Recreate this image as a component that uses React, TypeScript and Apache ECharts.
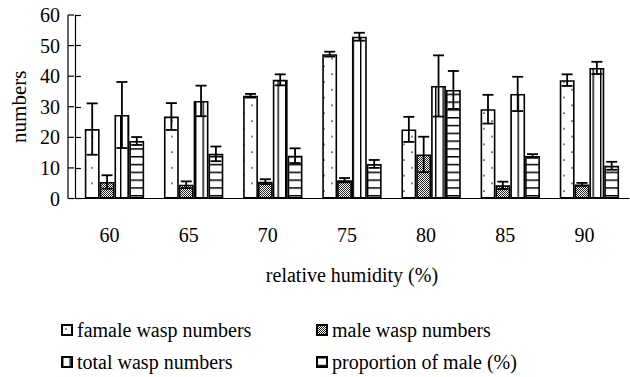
import React, { useEffect, useRef } from 'react';
import * as echarts from 'echarts';

const categories = ['60', '65', '70', '75', '80', '85', '90'];
const yTicks = [0, 10, 20, 30, 40, 50, 60];

const seriesNames = [
  'famale wasp numbers',
  'male wasp numbers',
  'total wasp numbers',
  'proportion of male (%)',
];

const female = [22.7, 26.8, 33.6, 47.2, 22.6, 29.2, 38.7];
const femaleErr = [8.4, 4.4, 0.6, 0.8, 4.1, 4.7, 1.9];
const male = [5.4, 4.5, 5.5, 6.0, 14.4, 4.3, 4.6];
const maleErr = [2.2, 1.1, 0.8, 0.7, 5.8, 1.2, 0.5];
const total = [27.3, 31.9, 38.8, 52.9, 36.8, 34.2, 42.7];
const totalErr = [10.8, 5.0, 1.8, 1.3, 10.0, 5.6, 2.0];
const proportion = [18.8, 14.6, 14.0, 11.3, 35.5, 13.9, 10.7];
const proportionErr = [1.3, 2.4, 2.4, 1.3, 6.2, 0.6, 1.3];

const FONT = "'Liberation Serif', 'DejaVu Serif', serif";
const GRID_LEFT = 68;

function svgUrl(w: number, h: number, body: string) {
  return (
    'data:image/svg+xml;charset=utf-8,' +
    encodeURIComponent(
      `<svg xmlns="http://www.w3.org/2000/svg" width="${w}" height="${h}">${body}</svg>`
    )
  );
}

const patterns = [
  {
    image: svgUrl(16, 15.6,
      '<rect width="16" height="15.6" fill="#fff"/><circle cx="4" cy="4" r="0.9" fill="#333"/><circle cx="12" cy="11.8" r="0.9" fill="#333"/>'),
    imageWidth: 16, imageHeight: 15.6, repeat: 'repeat',
  },
  {
    image: svgUrl(2, 2,
      '<rect width="2" height="2" fill="#fff"/><rect x="0" y="0" width="1" height="1" fill="#222"/><rect x="1" y="1" width="1" height="1" fill="#222"/>'),
    imageWidth: 2, imageHeight: 2, repeat: 'repeat',
  },
  {
    image: svgUrl(7.5, 4,
      '<rect width="7.5" height="4" fill="#fff"/><rect x="0" y="0" width="1.4" height="4" fill="#000"/>'),
    imageWidth: 7.5, imageHeight: 4, repeat: 'repeat',
  },
  {
    image: svgUrl(4, 7.8,
      '<rect width="4" height="7.8" fill="#fff"/><rect x="0" y="0" width="4" height="1.5" fill="#000"/>'),
    imageWidth: 4, imageHeight: 7.8, repeat: 'repeat',
  },
];

const legendPos = [
  { left: 56, top: 315 },
  { left: 311, top: 315 },
  { left: 56, top: 347 },
  { left: 311, top: 347 },
];

export default function App() {
  const ref = useRef<HTMLDivElement>(null);
  useEffect(() => {
    if (!ref.current) return;
    const chart = echarts.init(ref.current, null, { renderer: 'svg' });
    const values = [female, male, total, proportion];
    const errs = [femaleErr, maleErr, totalErr, proportionErr];
    const errData: number[][] = [];
    values.forEach((arr, si) => {
      arr.forEach((v, ci) => errData.push([ci, v, errs[si][ci], si]));
    });

    const barSeries = seriesNames.map((name, i) => ({
      name,
      type: 'bar',
      data: values[i],
      barGap: '0%',
      barCategoryGap: '25%',
      itemStyle: {
        color: patterns[i] as any,
        borderColor: '#000',
        borderWidth: 1.6,
      },
      emphasis: { disabled: true },
    }));

    const legends = seriesNames.map((name, i) => ({
      left: legendPos[i].left,
      top: legendPos[i].top,
      orient: 'horizontal',
      icon: 'rect',
      itemWidth: 10,
      itemHeight: 10,
      selectedMode: false,
      data: [name],
      textStyle: { fontFamily: FONT, fontSize: 20, color: '#000' },
    }));

    chart.setOption({
      animation: false,
      backgroundColor: '#fff',
      grid: { left: GRID_LEFT, right: 1, top: 15, bottom: 178.5, containLabel: false },
      legend: legends,
      xAxis: {
        type: 'category',
        data: categories,
        name: 'relative humidity (%)',
        nameLocation: 'middle',
        nameGap: 66,
        nameTextStyle: { fontFamily: FONT, fontSize: 20, color: '#000' },
        axisLine: { lineStyle: { color: '#000', width: 1.2 } },
        axisTick: { inside: true, length: 8, lineStyle: { color: '#000', width: 1.2 } },
        axisLabel: {
          fontFamily: FONT, fontSize: 20, color: '#000', margin: 26,
          padding: [0, 10, 0, 0],
        },
      },
      yAxis: {
        type: 'value',
        min: yTicks[0],
        max: yTicks[yTicks.length - 1],
        interval: 10,
        name: 'numbers',
        nameLocation: 'middle',
        nameGap: 43,
        nameTextStyle: { fontFamily: FONT, fontSize: 21, color: '#000' },
        axisLine: { show: true, lineStyle: { color: '#000', width: 1.2 } },
        axisTick: { show: true, inside: true, length: 6, lineStyle: { color: '#000', width: 1.2 } },
        axisLabel: { fontFamily: FONT, fontSize: 20, color: '#000', margin: 15 },
        splitLine: { show: false },
      },
      series: [
        ...barSeries,
        {
          type: 'custom',
          name: 'err',
          z: 10,
          data: errData,
          encode: { x: 0, y: 1 },
          renderItem: (params: any, api: any) => {
            const ci = api.value(0);
            const v = api.value(1);
            const e = api.value(2);
            const si = api.value(3);
            const band = api.size([1, 0])[0];
            const bw = (band * 0.75) / 4;
            const c = api.coord([ci, v]);
            const x = c[0] + (si - 1.5) * bw;
            const top = api.coord([ci, v + e])[1];
            const bot = api.coord([ci, v - e])[1];
            const h = 5.5;
            const st = { stroke: '#000', lineWidth: 1.8 };
            return {
              type: 'group',
              children: [
                { type: 'line', shape: { x1: x, y1: top, x2: x, y2: bot }, style: st },
                { type: 'line', shape: { x1: x - h, y1: top, x2: x + h, y2: top }, style: st },
                { type: 'line', shape: { x1: x - h, y1: bot, x2: x + h, y2: bot }, style: st },
              ],
            };
          },
        },
      ],
    } as any);

    // Reinforce the value axis line and its inside ticks
    const yPix = yTicks.map((t) => chart.convertToPixel({ yAxisIndex: 0 } as any, t) as number);
    const yBottom = yPix[0];
    const yTop = yPix[yPix.length - 1];
    const ax = GRID_LEFT;
    chart.setOption({
      graphic: [
        {
          type: 'line',
          z: 20,
          shape: { x1: ax, y1: yTop, x2: ax, y2: yBottom },
          style: { stroke: '#000', lineWidth: 1.2 },
        },
        ...yPix.map((y) => ({
          type: 'line',
          z: 20,
          shape: { x1: ax, y1: y, x2: ax + 6, y2: y },
          style: { stroke: '#000', lineWidth: 1.2 },
        })),
      ],
    } as any);
    return () => chart.dispose();
  }, []);
  return (
    <div
      ref={ref}
      style={{ position: 'fixed', left: 0, top: 0, width: 630, height: 377 }}
    />
  );
}
